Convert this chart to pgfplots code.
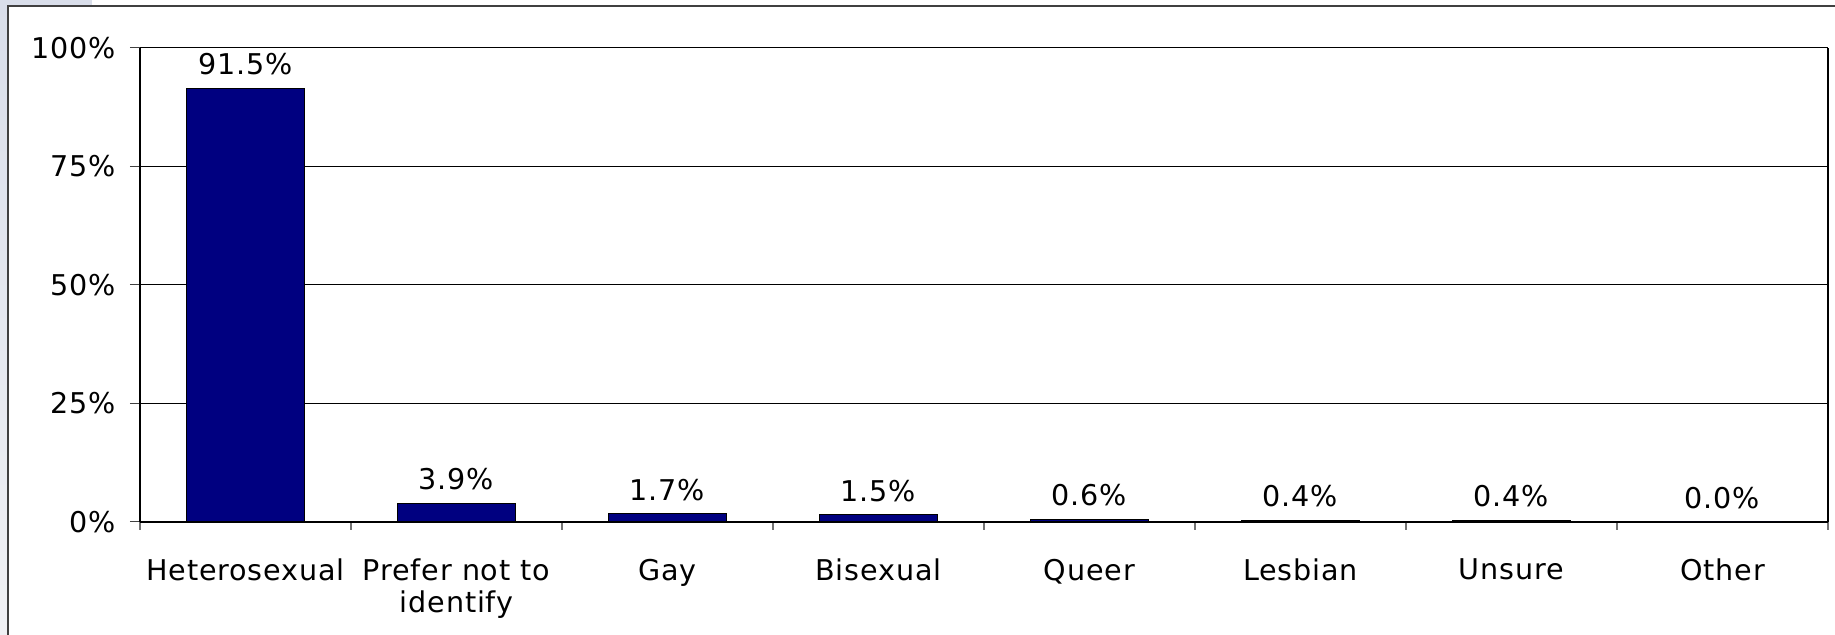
\documentclass[border=0pt]{standalone}
\usepackage{pgfplots}
\pgfplotsset{compat=1.18}
\usepackage{fontspec}
\setmainfont{DejaVu Sans}[LetterSpace=3]
\definecolor{navybar}{HTML}{000080}
\definecolor{bgtop}{HTML}{D9DEEA}
\definecolor{bgbot}{HTML}{F0F1F4}
\definecolor{framec}{HTML}{404040}
\begin{document}
\begin{tikzpicture}
\path[use as bounding box] (0,0) rectangle (917.5pt,317.5pt);
\shade[top color=bgtop,bottom color=bgbot] (0,0) rectangle (4pt,317.5pt);
\fill[bgtop] (0,314.5pt) rectangle (46pt,317.5pt);
\draw[framec,line width=1pt] (4pt,-2pt) -- (4pt,314.5pt) -- (920pt,314.5pt);
\begin{axis}[
  at={(70pt,56.5pt)}, anchor=south west,
  scale only axis, width=844pt, height=237pt,
  xmin=-0.5, xmax=7.5, ymin=0, ymax=100,
  axis x line=bottom, axis y line=left,
  axis line style={line width=1pt,-},
  ytick={0,25,50,75,100},
  yticklabels={0\%,25\%,50\%,75\%,100\%},
  ymajorgrids, major grid style={black,line width=0.5pt},
  xtick={0,...,7},
  xticklabels={Heterosexual,{Prefer not to\\identify},Gay,Bisexual,Queer,Lesbian,Unsure,Other},
  minor xtick={-0.5,0.5,...,7.5},
  tick align=outside,
  major tick length=5pt, minor tick length=4pt,
  major x tick style={draw=none},
  y tick style={draw=black!75,line width=0.5pt},
  minor x tick style={draw=black!55,line width=0.7pt},
  xticklabel style={align=center,font=\fontsize{14.3}{16}\selectfont,yshift=-10pt},
  yticklabel style={font=\fontsize{14.3}{16}\selectfont,xshift=-3.5pt},
  ybar, bar width=0.56,
  nodes near coords={\pgfmathprintnumber[fixed,fixed zerofill,precision=1,assume math mode=true]{\pgfplotspointmeta}\%},
  nodes near coords style={font=\fontsize{14.3}{16}\selectfont,anchor=south,yshift=3pt},
  clip=false,
]
\addplot[fill=navybar,draw=black,line width=0.5pt] coordinates {
(0,91.5) (1,3.9) (2,1.7) (3,1.5) (4,0.6) (5,0.4) (6,0.4) (7,0.0)};
\draw[line width=1pt] (rel axis cs:1,0) -- (rel axis cs:1,1);
\end{axis}
\end{tikzpicture}
\end{document}
